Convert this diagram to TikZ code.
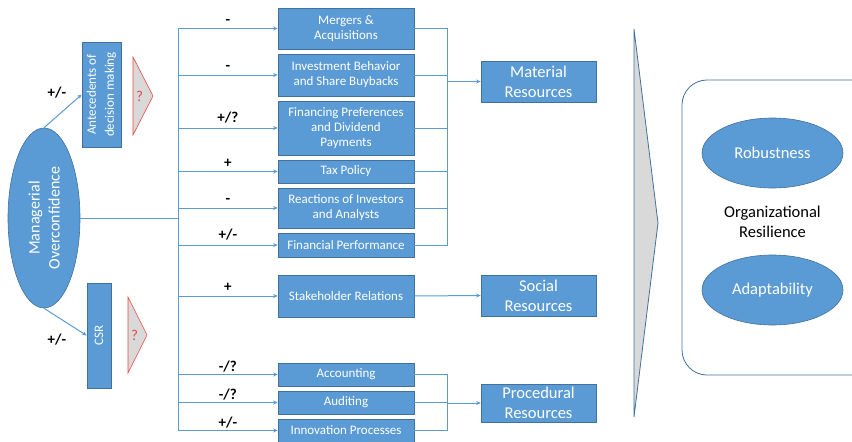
\documentclass[tikz,border=0pt]{standalone}
\usepackage{fontspec}
\setmainfont{Carlito}
\usetikzlibrary{positioning, arrows.meta, calc, shapes.geometric}

\definecolor{boxblue}{HTML}{5B9BD5}
\definecolor{edgeblue}{HTML}{41719C}
\definecolor{qred}{HTML}{E8483C}
\definecolor{chevgray}{HTML}{D9D9D9}

\begin{document}
\begin{tikzpicture}[
  x=1pt, y=-1pt,
  >={Stealth[length=4.5pt, width=4pt]},
  box/.style={draw=edgeblue, line width=0.6pt, fill=boxblue, text=white, align=center,
              inner sep=1pt, minimum width=136, font=\fontsize{13}{15}\selectfont},
  res/.style={box, minimum width=115, minimum height=41, font=\fontsize{16.5}{20}\selectfont},
  side/.style={box, rotate=90, minimum width=105, font=\fontsize{13}{18}\selectfont},
  oval/.style={ellipse, draw=edgeblue, line width=0.6pt, fill=boxblue, text=white,
               align=center, inner sep=0pt, font=\fontsize{16.5}{20}\selectfont},
  sign/.style={text=black, font=\fontsize{15}{15}\selectfont\bfseries, inner sep=1pt},
  qmark/.style={text=qred, font=\fontsize{15}{15}\selectfont},
  qtri/.style={draw=qred, line width=0.6pt, fill=chevgray},
  link/.style={boxblue, line width=1pt},
  arr/.style={link, ->}
]
\useasboundingbox (0,0) rectangle (852,442);
\clip (0,0) rectangle (852,442);

%--- Source ---
\node[oval, rotate=90, minimum width=180, minimum height=72, font=\fontsize{16}{20}\selectfont]
  (mo) at (44,218) {Managerial\\Overconfidence};
\node[side, minimum height=39] (ante) at (101.5,94.5) {Antecedents of\\decision making};
\node[side, minimum height=24] (csr) at (99,335.5) {CSR};

% rotated nodes: north = left side, east = top, west = bottom, south = right side
\draw[arr] (mo.east) -- (ante.north);
\draw[arr] (mo.west) -- (csr.north);
\node[sign] (s-ante) at (57,93) {+/-};
\node[sign] (s-csr) at (57,340) {+/-};

%--- Question triangles ---
\draw[qtri] (133,57) -- (153,96) -- (133,135) -- cycle;
\node[qmark] (q-ante) at (139.5,96) {?};
\draw[qtri] (128,297) -- (147,335) -- (128,373) -- cycle;
\node[qmark] (q-csr) at (134.5,335) {?};

%--- Middle column ---
\node[box, minimum height=41] (ma) at (346,28.5) {Mergers \&\\Acquisitions};
\node[box, minimum height=42] (inv) at (346,75) {Investment Behavior\\and Share Buybacks};
\node[box, minimum height=54] (fin) at (346,128) {Financing Preferences\\and Dividend\\Payments};
\node[box, minimum height=23] (tax) at (346,171.5) {Tax Policy};
\node[box, minimum height=40] (react) at (346,208) {Reactions of Investors\\and Analysts};
\node[box, minimum height=24] (perf) at (346,245) {Financial Performance};
\node[box, minimum height=42] (stake) at (346,296) {Stakeholder Relations};
\node[box, minimum height=23] (acc) at (346,374.5) {Accounting};
\node[box, minimum height=23] (aud) at (346,402.5) {Auditing};
\node[box, minimum height=23] (inno) at (346,430.5) {Innovation Processes};

%--- Trunk and branches ---
\coordinate (trunk) at (178,218);
\draw[link] (mo.south) -- (trunk);
\draw[link] (trunk |- ma.west) -- (trunk |- inno.west);

\draw[arr] (trunk |- ma.west) -- node[sign, above=3pt]{-} (ma.west);
\draw[arr] (trunk |- inv.west) -- node[sign, above=3pt]{-} (inv.west);
\draw[arr] (trunk |- fin.west) -- node[sign, above=3pt]{+/?} (fin.west);
\draw[arr] (trunk |- tax.west) -- node[sign, above=3pt]{+} (tax.west);
\draw[arr] (trunk |- react.west) -- node[sign, above=3pt]{-} (react.west);
\draw[arr] (trunk |- perf.west) -- node[sign, above=3pt]{+/-} (perf.west);
\draw[arr] (trunk |- stake.west) -- node[sign, above=3pt]{+} (stake.west);
\draw[arr] (trunk |- acc.west) -- node[sign, above=1pt]{-/?} (acc.west);
\draw[arr] (trunk |- aud.west) -- node[sign, above=1pt]{-/?} (aud.west);
\draw[arr] (trunk |- inno.west) -- node[sign, above=1pt]{+/-} (inno.west);

%--- Resources ---
\node[res] (mat) at (538.5,81.5) {Material\\Resources};
\node[res] (soc) at (538.5,295.5) {Social\\Resources};
\node[res, minimum height=38] (proc) at (538.5,403) {Procedural\\Resources};

\coordinate (matbus) at (447,81.5);
\draw[link] (ma.east) -- (ma.east -| matbus) -- (perf.east -| matbus) -- (perf.east);
\draw[link] (inv.east) -- (inv.east -| matbus);
\draw[link] (fin.east) -- (fin.east -| matbus);
\draw[link] (tax.east) -- (tax.east -| matbus);
\draw[link] (react.east) -- (react.east -| matbus);
\draw[arr] (matbus) -- (mat.west);

\draw[arr] (stake.east) -- (soc.west);

\coordinate (procbus) at (447,403);
\draw[link] (acc.east) -- (acc.east -| procbus) -- (inno.east -| procbus) -- (inno.east);
\draw[link] (aud.east) -- (aud.east -| procbus);
\draw[arr] (procbus) -- (proc.west);

%--- Big arrow ---
\draw[edgeblue, line width=0.8pt, fill=chevgray] (634,29) -- (658,223) -- (634,417) -- cycle;

%--- Organizational resilience ---
\draw[edgeblue, line width=0.8pt, rounded corners=25pt] (682,80) rectangle (900,375);
\node[oval, minimum width=141, minimum height=70] (rob) at (772.5,153) {Robustness};
\node[oval, minimum width=141, minimum height=70] (ada) at (772.5,290) {Adaptability};
\node[align=center, font=\fontsize{16.5}{20}\selectfont] (resil) at (772.5,222)
  {Organizational\\Resilience};

\end{tikzpicture}
\end{document}
